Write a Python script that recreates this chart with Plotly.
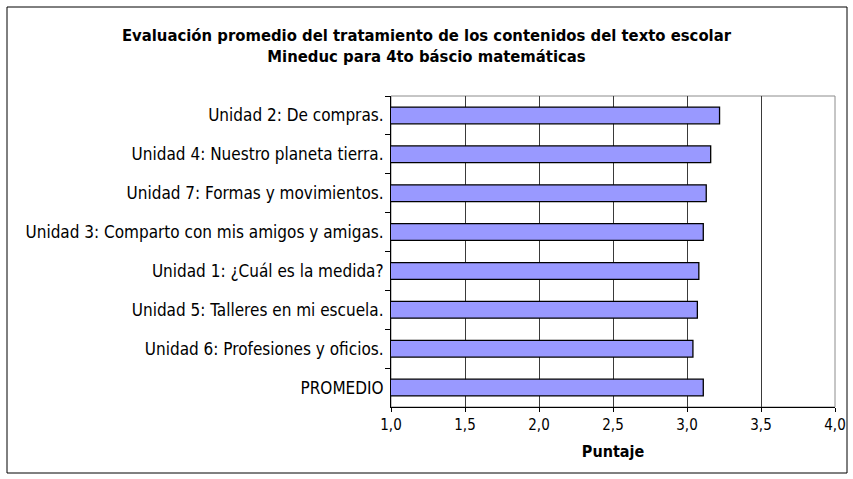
import plotly.graph_objects as go

# --- data -------------------------------------------------------------------
UNIDADES = [
    "Unidad 2: De compras.",
    "Unidad 4: Nuestro planeta tierra.",
    "Unidad 7: Formas y movimientos.",
    "Unidad 3: Comparto con mis amigos y amigas.",
    "Unidad 1: ¿Cuál es la medida?",
    "Unidad 5: Talleres en mi escuela.",
    "Unidad 6: Profesiones y oficios.",
    "PROMEDIO",
]
PUNTAJES = [3.22, 3.16, 3.13, 3.11, 3.08, 3.07, 3.04, 3.11]
X_TICKS = [1.0, 1.5, 2.0, 2.5, 3.0, 3.5, 4.0]

TITLE = ("<b>Evaluación promedio del tratamiento de los contenidos del texto escolar"
         "<br>Mineduc para 4to báscio matemáticas</b>")

FONT = "Tahoma, 'DejaVu Sans Condensed', 'DejaVu Sans', sans-serif"
BAR_FILL = "#9999ff"

# plot area in page pixels (from the reference)
L, R, T, B = 391, 835, 96, 407
W, H = 853, 479

fig = go.Figure(go.Bar(
    x=PUNTAJES,
    y=UNIDADES,
    orientation="h",
    width=0.43,
    marker=dict(color=BAR_FILL, line=dict(color="#000000", width=1.3)),
))

fig.update_layout(
    width=W, height=H,
    margin=dict(l=L, r=W - R, t=T, b=H - B, autoexpand=False),
    paper_bgcolor="white", plot_bgcolor="white",
    font=dict(family=FONT, size=15, color="#000000"),
    separators=",.",
    showlegend=False,
    title=dict(text=TITLE, xref="container", x=0.5, xanchor="center",
               yref="container", y=0.915, yanchor="middle",
               font=dict(family=FONT, size=16.5, color="#000000")),
)

fig.update_xaxes(
    range=[1, 4], tickvals=X_TICKS, tickformat=".1f", automargin=False,
    showgrid=True, gridcolor="#3a3a3a", gridwidth=1,
    showline=True, linecolor="#000000", linewidth=1,
    ticks="outside", ticklen=4, tickcolor="#000000",
    tickfont=dict(size=15), zeroline=False,
    title=dict(text="<b>Puntaje</b>", font=dict(size=16), standoff=12),
)
fig.update_yaxes(
    categoryorder="array", categoryarray=UNIDADES, autorange="reversed",
    tickson="boundaries", ticks="outside", ticklen=5, tickcolor="#000000",
    showline=True, linecolor="#000000", linewidth=1, automargin=False,
    showgrid=False, tickfont=dict(size=17), ticklabelstandoff=3,
)

# plot-area frame (grey) and outer chart border (black)
fig.add_shape(type="rect", xref="paper", yref="paper", x0=0, x1=1, y0=0, y1=1,
              line=dict(color="#8c8c8c", width=1), layer="below")
fig.add_shape(type="rect", xref="paper", yref="paper",
              x0=(7 - L) / (R - L), x1=(847 - L) / (R - L),
              y0=(B - 473) / (B - T), y1=(B - 7) / (B - T),
              line=dict(color="#000000", width=1), layer="below")

fig.write_html("out.html", config={"displayModeBar": False},
               post_script="document.body.style.margin='0px';")
